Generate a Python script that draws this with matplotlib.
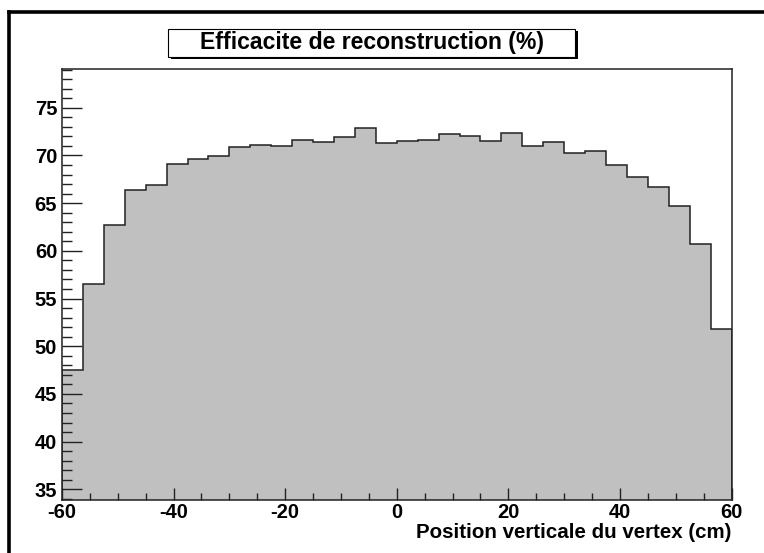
import matplotlib
matplotlib.use("Agg")
import matplotlib.pyplot as plt
import numpy as np
from matplotlib.patches import Rectangle
from matplotlib.lines import Line2D
from matplotlib.ticker import MultipleLocator

# efficiency per vertex bin (%), 32 bins from -60 to 60 cm
efficiency = [47.5, 56.5, 62.75, 66.35, 66.9, 69.1, 69.65, 69.93,
              70.84, 71.08, 70.98, 71.64, 71.4, 71.92, 72.9, 71.26,
              71.5, 71.64, 72.27, 72.06, 71.5, 72.37, 70.94, 71.4,
              70.27, 70.42, 68.98, 67.72, 66.64, 64.67, 60.68, 51.83]
x_min, x_max = -60, 60
title = "Efficacite de reconstruction (%)"
xlabel = "Position verticale du vertex (cm)"

plt.rcParams['font.family'] = ['Liberation Sans', 'DejaVu Sans']
plt.rcParams['font.weight'] = 'bold'
plt.rcParams['axes.unicode_minus'] = False

W, H = 764, 553
fig = plt.figure(figsize=(W / 100, H / 100), dpi=100)

# frame in pixel coords
fl, fr, ft, fb = 62, 731.5, 69, 500
ax = fig.add_axes([fl / W, 1 - fb / H, (fr - fl) / W, (fb - ft) / H])

edges = np.linspace(x_min, x_max, len(efficiency) + 1)
ax.stairs(efficiency, edges, baseline=0, fill=True, color='#c0c0c0', zorder=1)
ax.stairs(efficiency, edges, baseline=0, fill=False, color='#222222', lw=1.1, zorder=2)

ax.set_xlim(x_min, x_max)
ax.set_ylim(33.88, 79.06)
ax.xaxis.set_major_locator(MultipleLocator(20))
ax.xaxis.set_minor_locator(MultipleLocator(5))
ax.yaxis.set_major_locator(MultipleLocator(5))
ax.yaxis.set_minor_locator(MultipleLocator(1))
ax.tick_params(axis='both', which='both', direction='in', top=False, right=False,
               colors='#222222', labelcolor='black', labelsize=14.5, zorder=5)
ax.tick_params(axis='y', which='major', length=14.5, width=1, pad=3.5)
ax.tick_params(axis='y', which='minor', length=7.5, width=1)
ax.tick_params(axis='x', which='major', length=8.5, width=1, pad=2)
ax.tick_params(axis='x', which='minor', length=5, width=1)
for lab in ax.get_xticklabels() + ax.get_yticklabels():
    lab.set_fontweight('bold')
ax.set_axisbelow(False)
for s in ax.spines.values():
    s.set_linewidth(1.1)
    s.set_color('#222222')
    s.set_zorder(6)

ax.set_xlabel(xlabel, fontsize=14.8, fontweight='bold', loc='right', labelpad=1)

# outer canvas border (partly cropped)
fig.add_artist(Line2D([9 / W, 9 / W], [0, 1 - 12 / H], color='black', lw=2.6,
                      transform=fig.transFigure))
fig.add_artist(Line2D([9 / W, 1], [1 - 12 / H, 1 - 12 / H], color='black', lw=2.6,
                      transform=fig.transFigure, solid_capstyle='projecting'))

# title box with shadow
bx0, bx1, by0, by1 = 168, 575, 29, 56.5
fig.add_artist(Rectangle(((bx0 + 2.5) / W, 1 - (by1 + 2.5) / H), (bx1 - bx0) / W, (by1 - by0) / H,
                         transform=fig.transFigure, facecolor='black', edgecolor='none'))
fig.add_artist(Rectangle((bx0 / W, 1 - by1 / H), (bx1 - bx0) / W, (by1 - by0) / H,
                         transform=fig.transFigure, facecolor='white', edgecolor='black', lw=0.8))
fig.text((bx0 + bx1) / 2 / W, 1 - (by0 + by1) / 2 / H, title, ha='center', va='center',
         fontsize=16.6, fontweight='bold')

fig.savefig("out.png", dpi=100)
